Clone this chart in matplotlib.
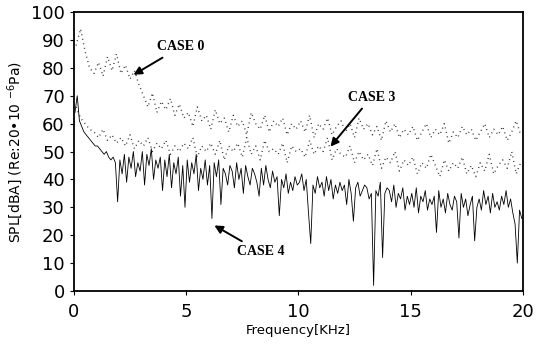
import matplotlib
matplotlib.use('Agg')
import matplotlib.pyplot as plt
import numpy as np

# SPL spectra (dBA), frequency in kHz
case0_spl = [88, 94, 86, 80, 78, 82, 77, 84, 79, 85,
             78, 81, 76, 79, 74, 70, 66, 71, 64, 68,
             65, 69, 63, 67, 62, 64, 59, 66, 61, 63,
             58, 65, 60, 62, 57, 63, 59, 61, 56, 64,
             60, 58, 63, 57, 61, 59, 62, 56, 60, 58,
             61, 57, 63, 55, 60, 58, 62, 56, 59, 61,
             57, 60, 55, 62, 58, 60, 56, 59, 54, 61,
             57, 60, 55, 58, 56, 59, 54, 57, 60, 55,
             58, 56, 60, 53, 57, 55, 59, 56, 58, 54,
             57, 60, 55, 58, 56, 59, 54, 57, 61, 56]

case3_spl = [66, 62, 60, 58, 57, 55, 58, 54, 56, 53,
             55, 52, 56, 51, 54, 52, 55, 50, 53, 51,
             54, 49, 52, 50, 53, 51, 55, 48, 52, 50,
             53, 49, 54, 47, 52, 50, 53, 48, 55, 49,
             52, 47, 54, 50, 51, 49, 53, 46, 52, 50,
             51, 48, 54, 49, 52, 50, 55, 47, 51, 49,
             48, 52, 46, 50, 47, 49, 45, 51, 44, 48,
             46, 50, 43, 47, 45, 48, 42, 46, 44, 49,
             45, 41, 47, 43, 46, 44, 48, 42, 45, 41,
             46, 43, 49, 42, 45, 47, 44, 50, 42, 46]

case4_spl = [64, 70, 61, 59, 57, 56, 55, 54, 53, 52,
             52, 51, 50, 49, 50, 48, 47, 48, 46, 32,
             47, 42, 49, 39, 48, 44, 50, 41, 46, 43,
             50, 38, 49, 45, 51, 40, 47, 44, 48, 36,
             47, 41, 49, 37, 46, 42, 48, 34, 45, 30,
             47, 39, 46, 42, 49, 36, 44, 40, 47, 38,
             45, 26, 46, 41, 47, 31, 44, 42, 38, 45,
             43, 37, 46, 40, 44, 35, 45, 41, 38, 44,
             42, 39, 34, 44, 38, 45, 40, 37, 43, 39,
             41, 27, 40, 37, 42, 35, 39, 36, 41, 38,
             39, 42, 36, 40, 28, 17, 38, 35, 41, 37,
             39, 34, 41, 36, 40, 33, 38, 35, 39, 36,
             38, 31, 40, 35, 25, 37, 39, 34, 36, 38,
             37, 33, 35, 2, 36, 34, 39, 12, 35, 37,
             36, 32, 38, 30, 35, 33, 37, 29, 34, 31,
             35, 30, 37, 28, 34, 32, 36, 29, 33, 31,
             34, 21, 36, 30, 33, 28, 35, 31, 29, 34,
             32, 19, 35, 30, 33, 27, 31, 34, 18, 30,
             33, 29, 36, 31, 34, 28, 35, 30, 32, 29,
             34, 31, 36, 30, 33, 28, 24, 10, 29, 26]

# evenly spaced analyser bins
f_case0 = np.linspace(0.1, 19.9, len(case0_spl))
f_case3 = np.linspace(0.1, 19.9, len(case3_spl))
f_case4 = np.linspace(0.05, 19.95, len(case4_spl))

fig = plt.figure(figsize=(5.47, 3.46), dpi=100)
ax = fig.add_axes([0.135, 0.159, 0.821, 0.806])

dots = (0, (0.7, 2.6))
ax.plot(f_case0, case0_spl, color='#333333', linestyle=dots, linewidth=1.0)
ax.plot(f_case3, case3_spl, color='#333333', linestyle=dots, linewidth=1.0)
ax.plot(f_case4, case4_spl, color='black', linestyle='-', linewidth=0.6)

ax.set_xlim(0, 20)
ax.set_ylim(0, 100)
ax.set_xticks([0, 5, 10, 15, 20])
ax.set_yticks(np.arange(0, 101, 10))
ax.tick_params(axis='both', labelsize=13, length=3, width=0.8, direction='out')
ax.tick_params(axis='x', pad=6)
for s in ax.spines.values():
    s.set_linewidth(1.3)

ax.set_xlabel('Frequency[KHz]', fontsize=9.5, labelpad=2)
ax.set_ylabel('SPL[dBA] (Re:20\u202210 $^{-6}$Pa)', fontsize=10, labelpad=4)

# case labels with arrows
lab = dict(fontsize=10, fontweight='bold', family='Liberation Serif', va='center')
arr = dict(arrowstyle='-|>', color='black', lw=1.4, mutation_scale=12)
ax.annotate('CASE 0', xy=(2.55, 77), xytext=(3.7, 87.5), arrowprops=arr, **lab)
ax.annotate('CASE 3', xy=(11.35, 51), xytext=(12.2, 69.5), arrowprops=arr, **lab)
ax.annotate('CASE 4', xy=(6.15, 24), xytext=(7.25, 14), arrowprops=arr, **lab)

plt.savefig('out.png', dpi=100)
